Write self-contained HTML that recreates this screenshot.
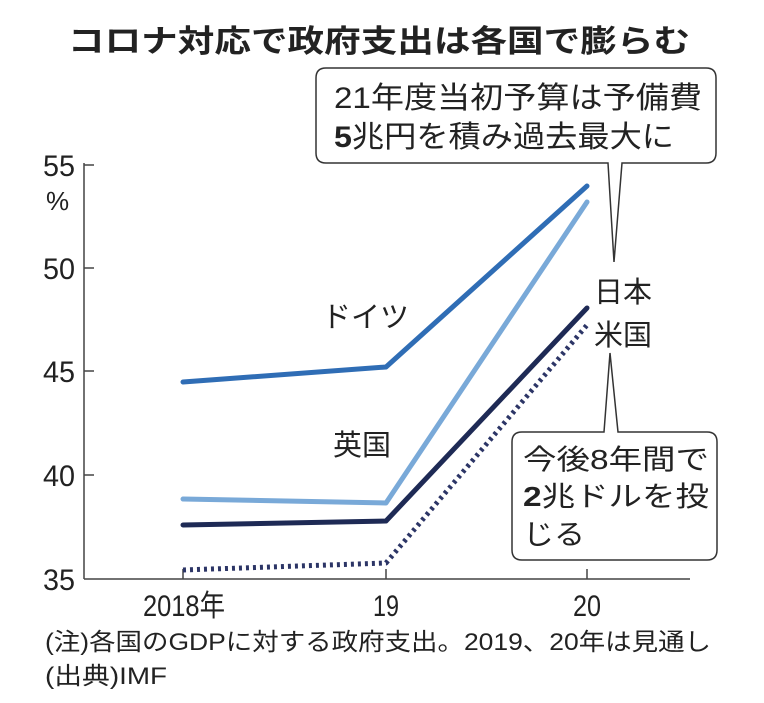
<!DOCTYPE html>
<html><head><meta charset="utf-8"><style>
html,body{margin:0;padding:0;background:#fff;}
svg{display:block;}
text{font-family:"Liberation Sans","Noto Sans CJK JP",sans-serif;fill:#222;}
</style></head><body>
<svg width="764" height="703" viewBox="0 0 764 703" xmlns="http://www.w3.org/2000/svg">
<text x="68" y="52" font-size="31" font-weight="bold" textLength="622" lengthAdjust="spacingAndGlyphs">コロナ対応で政府支出は各国で膨らむ</text>
<g stroke="#444" stroke-width="1.5" fill="none">
<line x1="84" y1="163" x2="84" y2="579"/>
<line x1="84" y1="579" x2="690" y2="579"/>
<line x1="84" y1="165" x2="94" y2="165"/>
<line x1="84" y1="268" x2="94" y2="268"/>
<line x1="84" y1="371" x2="94" y2="371"/>
<line x1="84" y1="475" x2="94" y2="475"/>
<line x1="386" y1="569" x2="386" y2="579"/>
<line x1="587" y1="569" x2="587" y2="579"/>
<line x1="183" y1="569" x2="183" y2="579"/>
</g>
<g font-size="30">
<text x="43" y="176" textLength="32" lengthAdjust="spacingAndGlyphs">55</text>
<text x="46" y="210" font-size="26">%</text>
<text x="43" y="279" textLength="32" lengthAdjust="spacingAndGlyphs">50</text>
<text x="43" y="382" textLength="32" lengthAdjust="spacingAndGlyphs">45</text>
<text x="43" y="486" textLength="32" lengthAdjust="spacingAndGlyphs">40</text>
<text x="43" y="590" textLength="32" lengthAdjust="spacingAndGlyphs">35</text>
<text x="143" y="616" textLength="82" lengthAdjust="spacingAndGlyphs">2018年</text>
<text x="373" y="616" textLength="26" lengthAdjust="spacingAndGlyphs">19</text>
<text x="573" y="616" textLength="28" lengthAdjust="spacingAndGlyphs">20</text>
</g>
<g fill="none" stroke-linecap="round" stroke-linejoin="round" stroke-width="5">
<polyline points="183,382 386,367 587,186" stroke="#2f6db5"/>
<polyline points="183,499 386,503 587,202" stroke="#79a9d8"/>
<polyline points="183,525 386,521 587,308" stroke="#1e2a55"/>
<polyline points="183,570 386,563 587,325" stroke="#2c3566" stroke-dasharray="3,4" stroke-linecap="butt"/>
</g>
<g font-size="29">
<text x="322" y="327">ドイツ</text>
<text x="333" y="455">英国</text>
<text x="594" y="302">日本</text>
<text x="594" y="345">米国</text>
</g>
<path d="M326,68 H706 Q716,68 716,78 V153 Q716,163 706,163 H622 L614,262 L608,163 H326 Q316,163 316,153 V78 Q316,68 326,68 Z" fill="#fff" stroke="#333" stroke-width="1.5"/>
<text x="334" y="108" font-size="30" textLength="368" lengthAdjust="spacingAndGlyphs">21年度当初予算は予備費</text>
<text x="334" y="147" font-size="30" textLength="340" lengthAdjust="spacingAndGlyphs"><tspan font-weight="bold">5</tspan>兆円を積み過去最大に</text>
<path d="M522,432 H604 L610,353 L618,432 H707 Q717,432 717,442 V550 Q717,560 707,560 H522 Q512,560 512,550 V442 Q512,432 522,432 Z" fill="#fff" stroke="#333" stroke-width="1.5"/>
<g font-size="28">
<text x="523" y="469" textLength="186" lengthAdjust="spacingAndGlyphs">今後8年間で</text>
<text x="523" y="506" textLength="186" lengthAdjust="spacingAndGlyphs"><tspan font-weight="bold">2</tspan>兆ドルを投</text>
<text x="523" y="544" textLength="62" lengthAdjust="spacingAndGlyphs">じる</text>
</g>
<g font-size="24">
<text x="45" y="650" textLength="666" lengthAdjust="spacingAndGlyphs">(注)各国のGDPに対する政府支出。2019、20年は見通し</text>
<text x="45" y="684" textLength="122" lengthAdjust="spacingAndGlyphs">(出典)IMF</text>
</g>
</svg>
</body></html>
